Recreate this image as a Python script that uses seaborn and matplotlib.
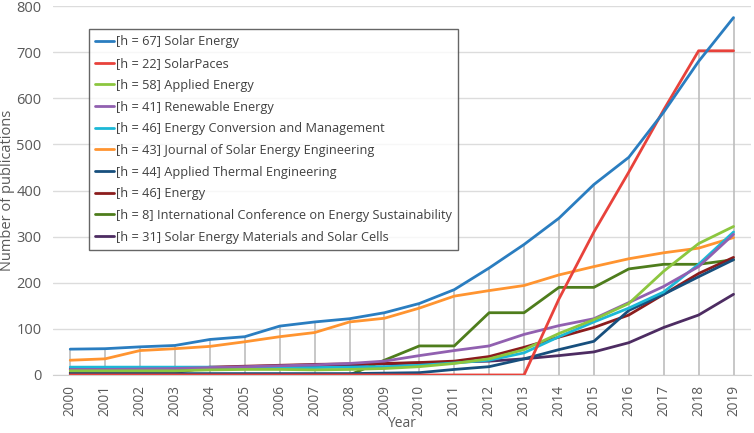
import matplotlib
matplotlib.use("Agg")
import matplotlib.pyplot as plt
import pandas as pd
import seaborn as sns

# years on the x axis
years = list(range(2000, 2020))

# publications per year for each source
solar_energy = [56, 57, 61, 64, 77, 83, 106, 115, 122, 135, 155, 185, 232, 283, 340, 413, 472, 570, 680, 775]
solarpaces = [0, 0, 0, 0, 0, 0, 0, 0, 0, 0, 0, 0, 0, 0, 165, 310, 440, 575, 703, 703]
applied_energy = [9, 9, 9, 9, 11, 12, 12, 11, 12, 14, 18, 25, 35, 55, 90, 120, 155, 225, 285, 322]
renewable_energy = [12, 12, 13, 14, 16, 18, 20, 22, 25, 30, 42, 53, 63, 88, 107, 122, 157, 192, 235, 305]
ecm = [17, 17, 17, 17, 17, 16, 16, 16, 17, 18, 21, 26, 32, 48, 83, 115, 145, 180, 240, 310]
jsee = [32, 35, 53, 57, 62, 72, 83, 92, 115, 123, 145, 171, 183, 194, 217, 235, 252, 265, 275, 298]
applied_thermal = [3, 3, 3, 3, 3, 3, 3, 3, 3, 4, 5, 12, 18, 35, 55, 73, 140, 175, 213, 250]
energy = [5, 5, 5, 5, 17, 19, 21, 23, 24, 25, 27, 30, 40, 60, 82, 103, 130, 175, 220, 255]
ices = [0, 0, 0, 0, 0, 0, 0, 0, 0, 32, 63, 63, 135, 135, 190, 190, 230, 240, 240, 250]
semsc = [13, 13, 13, 13, 15, 17, 18, 20, 22, 24, 26, 28, 30, 35, 42, 50, 70, 103, 130, 175]

labels = [
    "[h = 67] Solar Energy",
    "[h = 22] SolarPaces",
    "[h = 58] Applied Energy",
    "[h = 41] Renewable Energy",
    "[h = 46] Energy Conversion and Management",
    "[h = 43] Journal of Solar Energy Engineering",
    "[h = 44] Applied Thermal Engineering",
    "[h = 46] Energy",
    "[h = 8] International Conference on Energy Sustainability",
    "[h = 31] Solar Energy Materials and Solar Cells",
]
colors = ["#2a7dc0", "#e8423b", "#8cc63f", "#9160b0", "#1cb8d6",
          "#ff9430", "#174f7d", "#8b1c1c", "#4e7d1c", "#4d2c62"]

series = [solar_energy, solarpaces, applied_energy, renewable_energy, ecm,
          jsee, applied_thermal, energy, ices, semsc]

rows = []
for lab, vals in zip(labels, series):
    for y, v in zip(years, vals):
        rows.append({"Year": y, "Publications": v, "Source": lab})
df = pd.DataFrame(rows)

sns.set_style("white")
plt.rcParams["font.family"] = ["Open Sans", "DejaVu Sans"]

fig = plt.figure(figsize=(7.54, 4.33), dpi=100)
ax = fig.add_axes([0.070, 0.134, 0.926, 0.852])

# grey drop lines from the axis up to the highest value of each year
tops = df.groupby("Year")["Publications"].max()
ax.vlines(tops.index, 0, tops.values, color="#bdbdbd", lw=1.2, zorder=1)

# draw the lines in reverse so Solar Energy sits on top
for lab, col in list(zip(labels, colors))[::-1]:
    sub = df[df["Source"] == lab]
    sns.lineplot(data=sub, x="Year", y="Publications", color=col, lw=2,
                 ax=ax, label=lab, zorder=3)

ax.set_xlim(1999.5, 2019.5)
ax.set_ylim(0, 800)
ax.set_yticks(range(0, 801, 100))
ax.set_xticks(years)
ax.set_xticklabels([str(y) for y in years], rotation=90)
ax.yaxis.grid(True, color="#dcdcdc", lw=1)
ax.set_axisbelow(True)
for s in ["top", "right", "left"]:
    ax.spines[s].set_visible(False)
ax.spines["bottom"].set_color("#d0d0d0")
ax.tick_params(axis="both", colors="#595959", labelsize=10, length=0)
ax.tick_params(axis="x", labelsize=9.8, pad=7)
ax.tick_params(axis="y", labelsize=10.5, pad=8)
ax.set_xlabel("Year", color="#595959", fontsize=10)
ax.xaxis.set_label_coords(0.5, -0.112)
ax.set_ylabel("Number of publications", color="#595959", fontsize=10.5, labelpad=1)

handles, labs = ax.get_legend_handles_labels()
order = [labs.index(l) for l in labels]
leg = ax.legend([handles[i] for i in order], [labs[i] for i in order],
                loc="upper left", bbox_to_anchor=(0.0516, 0.9377),
                borderaxespad=0, fontsize=9.2, frameon=True, fancybox=False,
                edgecolor="#404040", handlelength=1.5, handletextpad=0.1,
                labelspacing=0.68, borderpad=0.5)
leg.get_frame().set_linewidth(1)
for t in leg.get_texts():
    t.set_color("#404040")

fig.savefig("out.png", dpi=100)
